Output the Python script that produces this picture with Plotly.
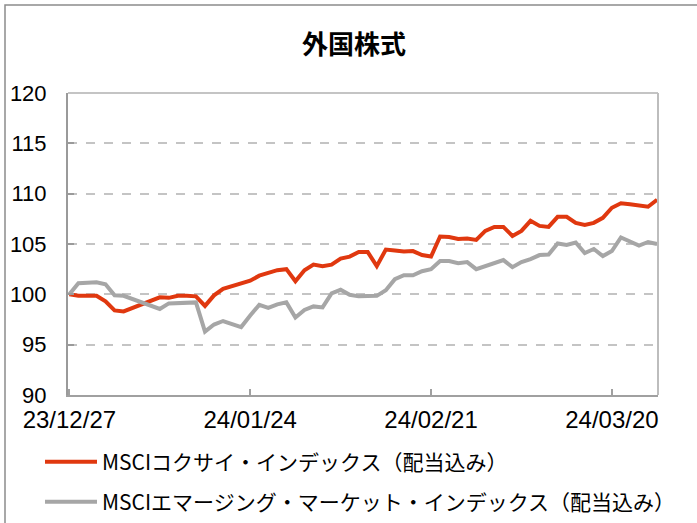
import plotly.graph_objects as go
import pandas as pd

# Categories: business days
dates = [d.strftime("%y/%m/%d") for d in pd.bdate_range("2023-12-27", "2024-03-27")]
tick_labels = ["23/12/27", "24/01/24", "24/02/21", "24/03/20"]
y_ticks = [90, 95, 100, 105, 110, 115, 120]

kokusai = [100.0, 99.85, 99.85, 99.85, 99.3, 98.4, 98.3, 98.65, 99.1, 99.4,
           99.7, 99.65, 99.85, 99.85, 99.8, 98.85, 99.9, 100.55, 100.8, 101.0,
           101.35, 101.85, 102.15, 102.4, 102.5, 101.3, 102.4, 102.95, 102.8, 102.95,
           103.55, 103.75, 104.2, 104.2, 102.8, 104.45, 104.35, 104.25, 104.3, 103.9,
           103.75, 105.75, 105.7, 105.5, 105.55, 105.4, 106.3, 106.7, 106.7, 105.8,
           106.3, 107.3, 106.8, 106.7, 107.7, 107.7, 107.1, 106.9, 107.1, 107.6,
           108.6, 109.05, 108.95, 108.85, 108.7, 109.4]

emerging = [100.0, 101.1, 101.15, 101.2, 101.0, 99.9, 99.85, 99.5, 99.15, 98.8,
            98.55, 99.1, 99.15, 99.2, 99.2, 96.3, 97.0, 97.35, 97.0, 96.75,
            97.9, 98.95, 98.65, 99.0, 99.2, 97.7, 98.45, 98.8, 98.7, 100.1,
            100.45, 99.95, 99.8, 99.8, 99.85, 100.4, 101.5, 101.9, 101.9, 102.3,
            102.5, 103.3, 103.3, 103.1, 103.2, 102.5, 102.8, 103.1, 103.4, 102.7,
            103.2, 103.5, 103.9, 103.95, 105.05, 104.9, 105.15, 104.1, 104.5, 103.8,
            104.3, 105.65, 105.2, 104.85, 105.2, 105.0]

name1 = "MSCIコクサイ・インデックス（配当込み）"
name2 = "MSCIエマージング・マーケット・インデックス（配当込み）"

RED = "#e0380f"
GRAY = "#a6a6a6"
NUM_FONT = "Liberation Sans, Arial, sans-serif"
JP_FONT = "Noto Sans CJK JP, sans-serif"

fig = go.Figure()
fig.add_trace(go.Scatter(x=dates, y=kokusai, mode="lines", name=name1,
                         line=dict(color=RED, width=4), legend="legend"))
fig.add_trace(go.Scatter(x=dates, y=emerging, mode="lines", name=name2,
                         line=dict(color=GRAY, width=4), legend="legend2"))

W, H = 697, 523
L, R, T, B = 68, 39, 93, 128
pw, ph = W - L - R, H - T - B

def px(x):
    return (x - L) / pw

def py(y):
    return (H - B - y) / ph

fig.update_layout(
    width=W, height=H,
    margin=dict(l=L, r=R, t=T, b=B, autoexpand=False),
    paper_bgcolor="white", plot_bgcolor="white",
    title=dict(text="<b>外国株式</b>", x=354 / W, xanchor="center",
               y=1 - 45 / H, yanchor="middle", automargin=False,
               font=dict(family=JP_FONT, size=26, color="black")),
    xaxis=dict(type="category", tickvals=tick_labels, ticktext=tick_labels,
               range=[-0.15, 65.1], showgrid=False, showline=True, automargin=False,
               linecolor="#a0a0a0", linewidth=2, ticks="inside", ticklen=6,
               tickcolor="#a0a0a0", tickwidth=1.5, ticklabelstandoff=2,
               tickfont=dict(family=NUM_FONT, size=24, color="black")),
    yaxis=dict(range=[90, 120], tickvals=y_ticks, automargin=False,
               showgrid=True, gridcolor="#c4c4c4", gridwidth=1.5, griddash="dash",
               showline=True, linecolor="#9a9a9a", linewidth=2, ticks="inside",
               ticklen=6, tickcolor="#9a9a9a", tickwidth=1.5, zeroline=False,
               ticklabelstandoff=15,
               tickfont=dict(family=NUM_FONT, size=22, color="black")),
    legend=dict(xref="container", yref="container", x=40 / W, y=1 - 462 / H,
                xanchor="left", yanchor="middle",
                bgcolor="rgba(0,0,0,0)", itemwidth=52,
                font=dict(family=JP_FONT, size=21, color="black")),
    legend2=dict(xref="container", yref="container", x=40 / W, y=1 - 502 / H,
                 xanchor="left", yanchor="middle",
                 bgcolor="rgba(0,0,0,0)", itemwidth=52,
                 font=dict(family=JP_FONT, size=21, color="black")),
    showlegend=True,
    shapes=[
        # plot-area top and right edges
        dict(type="line", xref="paper", yref="paper", x0=0, x1=1, y0=1, y1=1,
             line=dict(color="#c4c4c4", width=2)),
        dict(type="line", xref="paper", yref="paper", x0=1, x1=1, y0=0, y1=1,
             line=dict(color="#bdbdbd", width=2)),
        # outer frame
        dict(type="rect", xref="paper", yref="paper",
             x0=px(5), x1=px(720), y0=py(540), y1=py(5),
             line=dict(color="#8c8c8c", width=1.5), fillcolor="rgba(0,0,0,0)"),
    ],
)

fig.write_html("out.html", config={"displayModeBar": False},
               post_script="document.body.style.margin='0';")
